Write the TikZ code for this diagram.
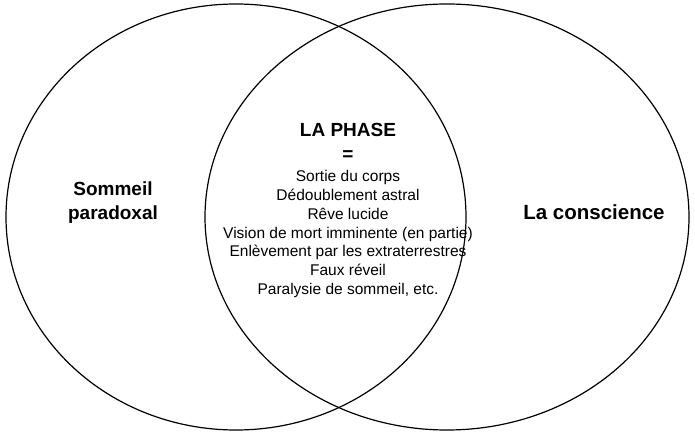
\documentclass[tikz,border=0pt]{standalone}
\usepackage{fontspec}
\setmainfont{Liberation Sans}
\usetikzlibrary{positioning}

\begin{document}
\begin{tikzpicture}[
    x=1pt, y=-1pt,
    circ/.style={draw, line width=1.2pt},
    title/.style={font=\bfseries\fontsize{19}{24}\selectfont, align=center},
    item/.style={font=\fontsize{15.5}{18.7}\selectfont, align=center}
]
\useasboundingbox (0,0) rectangle (695,435);

% Circles
\draw[circ] (236,217) ellipse (230 and 213);
\draw[circ] (447,217) ellipse (242 and 213);

% Labels
\node[title] (sleep) at (113,203) {Sommeil\\paradoxal};
\node[title, font=\bfseries\fontsize{20.5}{24}\selectfont] (cons) at (594,212) {La conscience};
\node[title] (phase) at (348,142) {LA PHASE\\=};
\node[item] (list) at (348,234) {Sortie du corps\\Dédoublement astral\\Rêve lucide\\Vision de mort imminente (en partie)\\Enlèvement par les extraterrestres\\Faux réveil\\Paralysie de sommeil, etc.};

\end{tikzpicture}
\end{document}
